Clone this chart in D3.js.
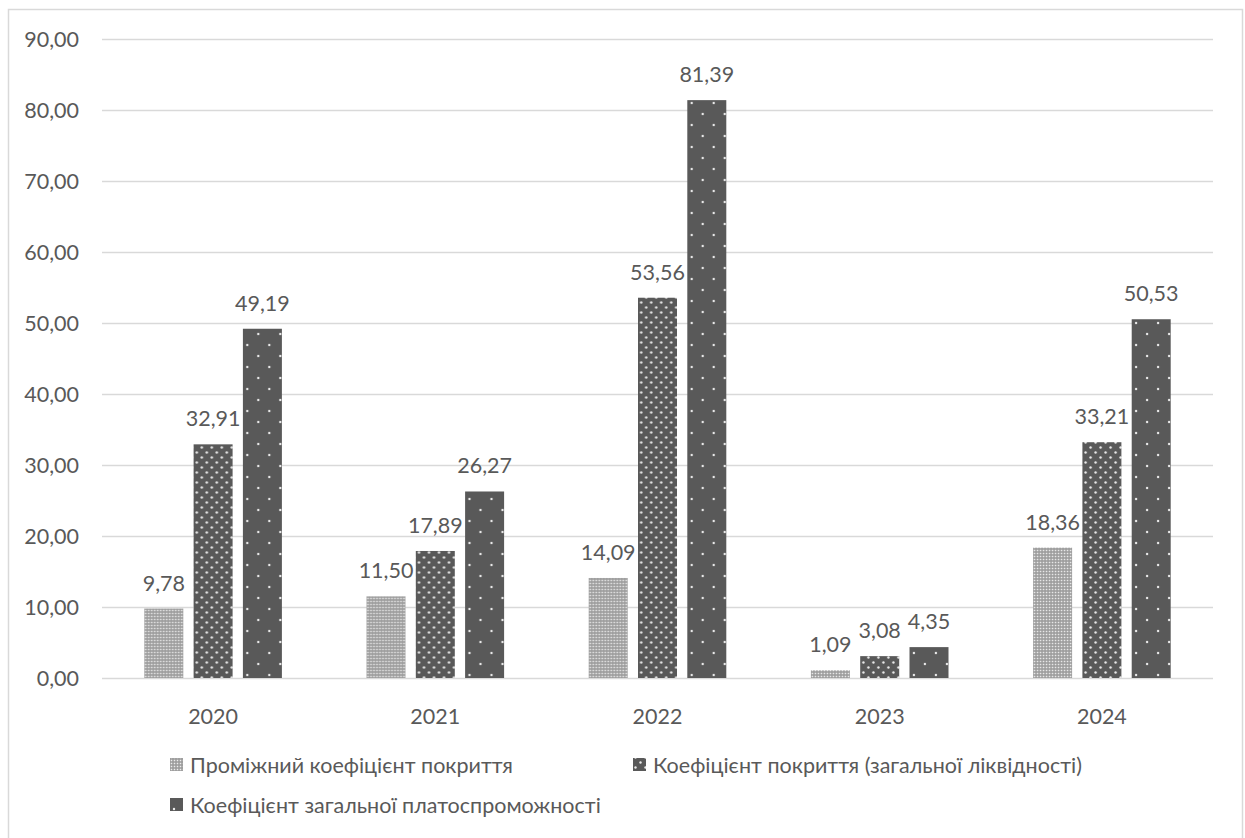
<!DOCTYPE html>
<html lang="uk">
<head>
<meta charset="utf-8">
<script src="https://cdn.jsdelivr.net/npm/d3@7"></script>
<style>
  html, body { margin: 0; padding: 0; background: #fff; }
  svg { display: block; font-family: Lato, "Open Sans", sans-serif; }
</style>
</head>
<body>
<svg id="chart" width="1245" height="838"></svg>
<script>
// Years on the category axis
const years = ["2020", "2021", "2022", "2023", "2024"];

// Series names (legend order)
const seriesNames = [
  "Проміжний коефіцієнт покриття",
  "Коефіцієнт покриття (загальної ліквідності)",
  "Коефіцієнт загальної платоспроможності"
];

// Values per series, one per year
const intermediateCoverage = [9.78, 11.50, 14.09, 1.09, 18.36];
const coverageLiquidity    = [32.91, 17.89, 53.56, 3.08, 33.21];
const overallSolvency      = [49.19, 26.27, 81.39, 4.35, 50.53];
const seriesValues = [intermediateCoverage, coverageLiquidity, overallSolvency];

// Value axis ticks
const yTicks = [0, 10, 20, 30, 40, 50, 60, 70, 80, 90];

const svg = d3.select("#chart");
const textColor = "#595959";
const gridColor = "#d9d9d9";
const fontSize = 21.5;
const fmt = v => d3.format(".2f")(v).replace(".", ",");

// Fill patterns for each series
const defs = svg.append("defs");

const p1 = defs.append("pattern").attr("id", "pat0")
  .attr("patternUnits", "userSpaceOnUse").attr("width", 3).attr("height", 3);
p1.append("rect").attr("width", 3).attr("height", 3).attr("fill", "#9a9a9a");
p1.append("rect").attr("x", 0.75).attr("y", 0.75).attr("width", 1.5).attr("height", 1.5).attr("fill", "#ededed");

const p2 = defs.append("pattern").attr("id", "pat1")
  .attr("patternUnits", "userSpaceOnUse").attr("width", 10).attr("height", 10);
p2.append("rect").attr("width", 10).attr("height", 10).attr("fill", "#595959");
[[2.5, 2.5], [7.5, 7.5]].forEach(([cx, cy]) =>
  p2.append("circle").attr("cx", cx).attr("cy", cy).attr("r", 1.2).attr("fill", "#ececec"));

const p3 = defs.append("pattern").attr("id", "pat2")
  .attr("patternUnits", "userSpaceOnUse").attr("width", 22).attr("height", 22);
p3.append("rect").attr("width", 22).attr("height", 22).attr("fill", "#595959");
[[4, 4], [15, 15]].forEach(([cx, cy]) =>
  p3.append("circle").attr("cx", cx).attr("cy", cy).attr("r", 1.2).attr("fill", "#ececec"));

// Outer chart border
svg.append("rect")
  .attr("x", 8.5).attr("y", 9.5)
  .attr("width", 1234).attr("height", 840)
  .attr("fill", "none").attr("stroke", gridColor).attr("stroke-width", 1.5);

// Scales
const plotLeft = 102, plotRight = 1213;
const y = d3.scaleLinear().domain([0, 90]).range([678, 39]);
const x0 = d3.scaleBand().domain(years).range([plotLeft, plotRight]).padding(0);
const groupWidth = 137.6;
const x1 = d3.scaleBand().domain(d3.range(seriesNames.length))
  .range([0, groupWidth]).paddingInner(0.209).paddingOuter(0);
const groupOffset = (x0.bandwidth() - groupWidth) / 2;

// Gridlines
svg.append("g").selectAll("line").data(yTicks).join("line")
  .attr("x1", plotLeft).attr("x2", plotRight)
  .attr("y1", d => Math.round(y(d)) + 0.5).attr("y2", d => Math.round(y(d)) + 0.5)
  .attr("stroke", gridColor).attr("stroke-width", 1.3);

// Y axis labels
svg.append("g").selectAll("text").data(yTicks).join("text")
  .attr("x", 79).attr("y", d => y(d)).attr("dy", "0.36em")
  .attr("text-anchor", "end").attr("fill", textColor)
  .attr("font-size", fontSize).text(fmt);

// Bars
const groups = svg.append("g").selectAll("g").data(years).join("g")
  .attr("transform", d => `translate(${x0(d) + groupOffset},0)`);

groups.each(function (year, yi) {
  const g = d3.select(this);
  seriesValues.forEach((vals, si) => {
    const v = vals[yi];
    g.append("rect")
      .attr("x", x1(si)).attr("width", x1.bandwidth())
      .attr("y", y(v)).attr("height", y(0) - y(v))
      .attr("fill", `url(#pat${si})`);
    g.append("text")
      .attr("x", x1(si) + x1.bandwidth() / 2).attr("y", y(v) - 18)
      .attr("text-anchor", "middle").attr("fill", textColor)
      .attr("font-size", fontSize).text(fmt(v));
  });
});

// Category labels
svg.append("g").selectAll("text").data(years).join("text")
  .attr("x", d => x0(d) + x0.bandwidth() / 2).attr("y", 724)
  .attr("text-anchor", "middle").attr("fill", textColor)
  .attr("font-size", fontSize).text(d => d);

// Legend
const legendPos = [[170, 765], [633, 765], [170, 805]];
const legend = svg.append("g").selectAll("g").data(seriesNames).join("g")
  .attr("transform", (d, i) => `translate(${legendPos[i][0]},${legendPos[i][1]})`);
legend.append("rect")
  .attr("x", 0).attr("y", -7).attr("width", 13).attr("height", 13)
  .attr("fill", (d, i) => `url(#pat${i})`);
legend.append("text")
  .attr("x", 20).attr("y", 0).attr("dy", "0.35em")
  .attr("fill", textColor).attr("font-size", fontSize).text(d => d);
</script>
</body>
</html>
